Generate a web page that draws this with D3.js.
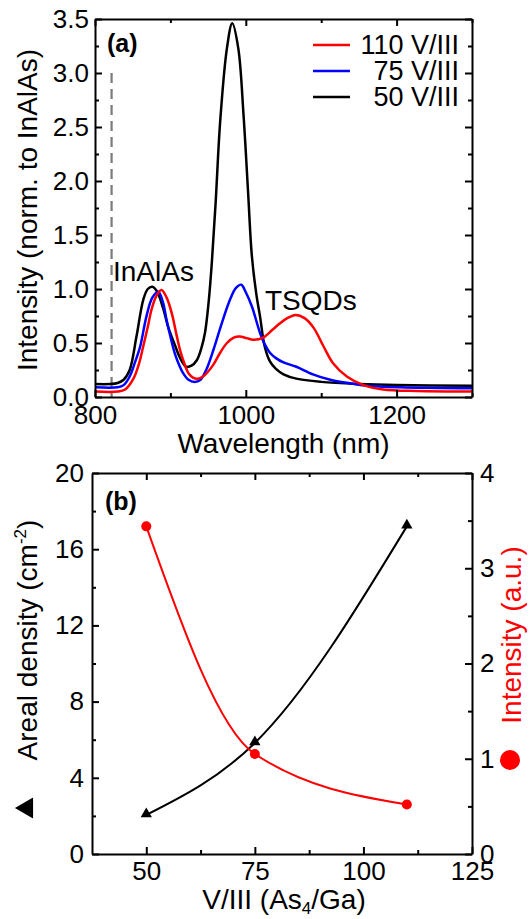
<!DOCTYPE html>
<html>
<head>
<meta charset="utf-8">
<script src="https://cdn.jsdelivr.net/npm/d3@7"></script>
<style>
  body { margin: 0; background: #fff; }
  svg text { font-family: "Liberation Sans", Arial, sans-serif; fill: #000; }
</style>
</head>
<body>
<div id="chart"></div>
<script>
// ---- panel (a): PL spectra, [wavelength nm, intensity norm. to InAlAs]
const spec110 = [
  [800, 0.05], [830, 0.05], [840, 0.07], [851, 0.17], [858, 0.30], [864, 0.47],
  [870, 0.65], [875, 0.81], [881, 0.93], [888, 0.99], [895, 0.92], [902, 0.77],
  [908, 0.58], [913, 0.43], [918, 0.32], [924, 0.22], [930, 0.18], [936, 0.17],
  [945, 0.20], [957, 0.30], [966, 0.41], [975, 0.50], [984, 0.55], [992, 0.56],
  [1001, 0.545], [1010, 0.53], [1023, 0.55], [1035, 0.62], [1045, 0.68], [1055, 0.73],
  [1066, 0.76], [1078, 0.73], [1090, 0.64], [1103, 0.47], [1116, 0.31], [1134, 0.19],
  [1156, 0.11], [1182, 0.07], [1227, 0.055], [1300, 0.05]
];
const spec75 = [
  [800, 0.09], [830, 0.09], [838, 0.11], [846, 0.19], [853, 0.32], [860, 0.47],
  [868, 0.74], [876, 0.92], [884, 0.975], [890, 0.88], [895, 0.71], [900, 0.56],
  [906, 0.40], [912, 0.29], [917, 0.22], [924, 0.16], [932, 0.14], [940, 0.16],
  [948, 0.26], [957, 0.435], [968, 0.68], [979, 0.90], [987, 1.01], [994, 1.04],
  [1000, 0.97], [1008, 0.84], [1019, 0.59], [1025, 0.49], [1032, 0.41], [1040, 0.36],
  [1050, 0.32], [1067, 0.28], [1089, 0.21], [1112, 0.16], [1138, 0.127], [1160, 0.105],
  [1205, 0.09], [1300, 0.08]
];
const spec50 = [
  [800, 0.12], [820, 0.12], [830, 0.13], [838, 0.16], [846, 0.25], [855, 0.56],
  [864, 0.90], [870, 1.00], [876, 1.02], [882, 0.98], [890, 0.83], [897, 0.65],
  [906, 0.48], [913, 0.36], [921, 0.28], [928, 0.29], [935, 0.34], [941, 0.45],
  [946, 0.60], [951, 0.90], [955, 1.25], [960, 1.80], [966, 2.55], [975, 3.23],
  [982, 3.46], [990, 3.23], [997, 2.61], [1003, 1.90], [1008, 1.31], [1014, 0.95],
  [1019, 0.74], [1025, 0.47], [1032, 0.33], [1040, 0.26], [1050, 0.21], [1067, 0.17],
  [1100, 0.14], [1150, 0.12], [1200, 0.11], [1300, 0.105]
];
const seriesNames = ["110 V/III", "75 V/III", "50 V/III"];
const seriesColors = ["#ff0000", "#0000ff", "#000000"];
const inalasMark = 822; // dashed marker wavelength
const xMajorA = [800, 1000, 1200];
const xMinorA = [900, 1100, 1300];
const yMajorA = [0, 0.5, 1, 1.5, 2, 2.5, 3, 3.5];
const yMinorA = [0.25, 0.75, 1.25, 1.75, 2.25, 2.75, 3.25];

// ---- panel (b): density and intensity vs V/III ratio
const ratio = [50, 75, 110];
const density = [2.05, 5.83, 17.2];
const intensity = [3.44, 1.05, 0.52];
const xMajorB = [50, 75, 100, 125];
const xMinorB = [62.5, 87.5, 112.5];
const yMajorBL = [0, 4, 8, 12, 16, 20];
const yMinorBL = [2, 6, 10, 14, 18];
const yMajorBR = [0, 1, 2, 3, 4];
const yMinorBR = [0.5, 1.5, 2.5, 3.5];

const W = 532, H = 919;
const svg = d3.select("#chart").append("svg")
  .attr("width", W).attr("height", H);

const TICK_FS = 26, TITLE_FS = 28;
const intFmt = d3.format("d");

// one axis: major (labelled or not) + minor ticks, all pointing inward
function drawAxis(g, axisFn, scale, major, minor, fmt, pad) {
  const a = g.append("g");
  a.call(axisFn(scale).tickValues(major).tickSizeInner(-7).tickSizeOuter(0)
    .tickPadding(pad).tickFormat(fmt || (() => "")));
  a.selectAll(".tick text").attr("font-size", TICK_FS)
    .style("font-family", '"Liberation Sans", Arial, sans-serif');
  const m = g.append("g");
  m.call(axisFn(scale).tickValues(minor).tickSizeInner(-4).tickSizeOuter(0).tickFormat(""));
  m.select(".domain").remove();
  g.selectAll("path.domain").attr("stroke-width", 2);
  g.selectAll(".tick line").attr("stroke-width", 2);
}

// ================= panel (a) =================
const A = { l: 95, r: 472, t: 19, b: 397 };
const xA = d3.scaleLinear().domain([800, 1300]).range([A.l, A.r]);
const yA = d3.scaleLinear().domain([0, 3.5]).range([A.b, A.t]);

const gA = svg.append("g");

// dashed InAlAs marker
gA.append("line")
  .attr("x1", xA(inalasMark)).attr("x2", xA(inalasMark))
  .attr("y1", yA(3.0)).attr("y2", yA(0))
  .attr("stroke", "#7a7a7a").attr("stroke-width", 2.2)
  .attr("stroke-dasharray", "10,6");

const lineA = d3.line()
  .x(d => xA(d[0])).y(d => yA(d[1]))
  .curve(d3.curveCatmullRom.alpha(0.5));

// black first, then blue, red on top
[spec50, spec75, spec110].forEach((s, i) => {
  gA.append("path").datum(s)
    .attr("d", lineA)
    .attr("fill", "none")
    .attr("stroke", seriesColors[2 - i])
    .attr("stroke-width", 2.5);
});

drawAxis(gA.append("g").attr("transform", `translate(0,${A.b})`), d3.axisBottom, xA, xMajorA, xMinorA, intFmt, 9);
drawAxis(gA.append("g").attr("transform", `translate(0,${A.t})`), d3.axisTop, xA, xMajorA, xMinorA, null, 0);
drawAxis(gA.append("g").attr("transform", `translate(${A.l},0)`), d3.axisLeft, yA, yMajorA, yMinorA, d3.format(".1f"), 6);
drawAxis(gA.append("g").attr("transform", `translate(${A.r},0)`), d3.axisRight, yA, yMajorA, yMinorA, null, 0);

// legend
const leg = gA.append("g");
seriesNames.forEach((name, i) => {
  const yy = 45 + i * 26;
  leg.append("line")
    .attr("x1", 313).attr("x2", 350).attr("y1", yy).attr("y2", yy)
    .attr("stroke", seriesColors[i]).attr("stroke-width", 2.5);
  leg.append("text")
    .attr("x", 459).attr("y", yy + 9)
    .attr("text-anchor", "end").attr("font-size", 27)
    .text(name);
});

gA.append("text").attr("x", 107).attr("y", 52)
  .attr("font-size", 25).attr("font-weight", "bold").text("(a)");
gA.append("text").attr("x", 113).attr("y", 281)
  .attr("font-size", TITLE_FS).text("InAlAs");
gA.append("text").attr("x", 265).attr("y", 310)
  .attr("font-size", TITLE_FS).text("TSQDs");

gA.append("text")
  .attr("x", (A.l + A.r) / 2).attr("y", 453)
  .attr("text-anchor", "middle").attr("font-size", TITLE_FS)
  .text("Wavelength (nm)");
gA.append("text")
  .attr("transform", "translate(37,210) rotate(-90)")
  .attr("text-anchor", "middle").attr("font-size", TITLE_FS)
  .text("Intensity (norm. to InAlAs)");

// ================= panel (b) =================
const B = { l: 92, r: 472, t: 473, b: 854 };
const xB = d3.scaleLinear().domain([37.5, 125]).range([B.l, B.r]);
const yBL = d3.scaleLinear().domain([0, 20]).range([B.b, B.t]);
const yBR = d3.scaleLinear().domain([0, 4]).range([B.b, B.t]);

const gB = svg.append("g");

const densPts = ratio.map((r, i) => [r, density[i]]);
const intPts = ratio.map((r, i) => [r, intensity[i]]);

gB.append("path").datum(densPts)
  .attr("d", d3.line().x(d => xB(d[0])).y(d => yBL(d[1])).curve(d3.curveMonotoneX))
  .attr("fill", "none").attr("stroke", "#000").attr("stroke-width", 2);
gB.append("path").datum(intPts)
  .attr("d", d3.line().x(d => xB(d[0])).y(d => yBR(d[1])).curve(d3.curveMonotoneX))
  .attr("fill", "none").attr("stroke", "#ff0000").attr("stroke-width", 2);

gB.selectAll("path.tri").data(densPts).join("path")
  .attr("class", "tri")
  .attr("transform", d => `translate(${xB(d[0])},${yBL(d[1]) - 1})`)
  .attr("d", d3.symbol(d3.symbolTriangle, 55))
  .attr("fill", "#000");
gB.selectAll("circle.dot").data(intPts).join("circle")
  .attr("class", "dot")
  .attr("cx", d => xB(d[0])).attr("cy", d => yBR(d[1]))
  .attr("r", 5).attr("fill", "#ff0000");

drawAxis(gB.append("g").attr("transform", `translate(0,${B.b})`), d3.axisBottom, xB, xMajorB, xMinorB, intFmt, 8);
drawAxis(gB.append("g").attr("transform", `translate(0,${B.t})`), d3.axisTop, xB, xMajorB, xMinorB, null, 0);
drawAxis(gB.append("g").attr("transform", `translate(${B.l},0)`), d3.axisLeft, yBL, yMajorBL, yMinorBL, intFmt, 8);
drawAxis(gB.append("g").attr("transform", `translate(${B.r},0)`), d3.axisRight, yBR, yMajorBR, yMinorBR, intFmt, 8);

gB.append("text").attr("x", 105).attr("y", 510)
  .attr("font-size", 25).attr("font-weight", "bold").text("(b)");

// x title with subscript
const xt = gB.append("text")
  .attr("x", 284).attr("y", 909)
  .attr("text-anchor", "middle").attr("font-size", TITLE_FS);
xt.append("tspan").text("V/III (As");
xt.append("tspan").attr("font-size", 17).attr("dy", 5).text("4");
xt.append("tspan").attr("dy", -5).text("/Ga)");

// left title with superscript, plus triangle key
const lt = gB.append("text")
  .attr("transform", "translate(37,640) rotate(-90)")
  .attr("text-anchor", "middle").attr("font-size", TITLE_FS);
lt.append("tspan").text("Areal density (cm");
lt.append("tspan").attr("font-size", 17).attr("dy", -11).text("-2");
lt.append("tspan").attr("dy", 11).text(")");
gB.append("path")
  .attr("transform", "translate(27,808) rotate(-90)")
  .attr("d", d3.symbol(d3.symbolTriangle, 190))
  .attr("fill", "#000");

// right title in red, plus circle key
gB.append("text")
  .attr("transform", "translate(521,635) rotate(-90)")
  .attr("text-anchor", "middle").attr("font-size", TITLE_FS)
  .style("fill", "#ff0000")
  .text("Intensity (a.u.)");
gB.append("circle").attr("cx", 510).attr("cy", 760).attr("r", 10).attr("fill", "#ff0000");
</script>
</body>
</html>
